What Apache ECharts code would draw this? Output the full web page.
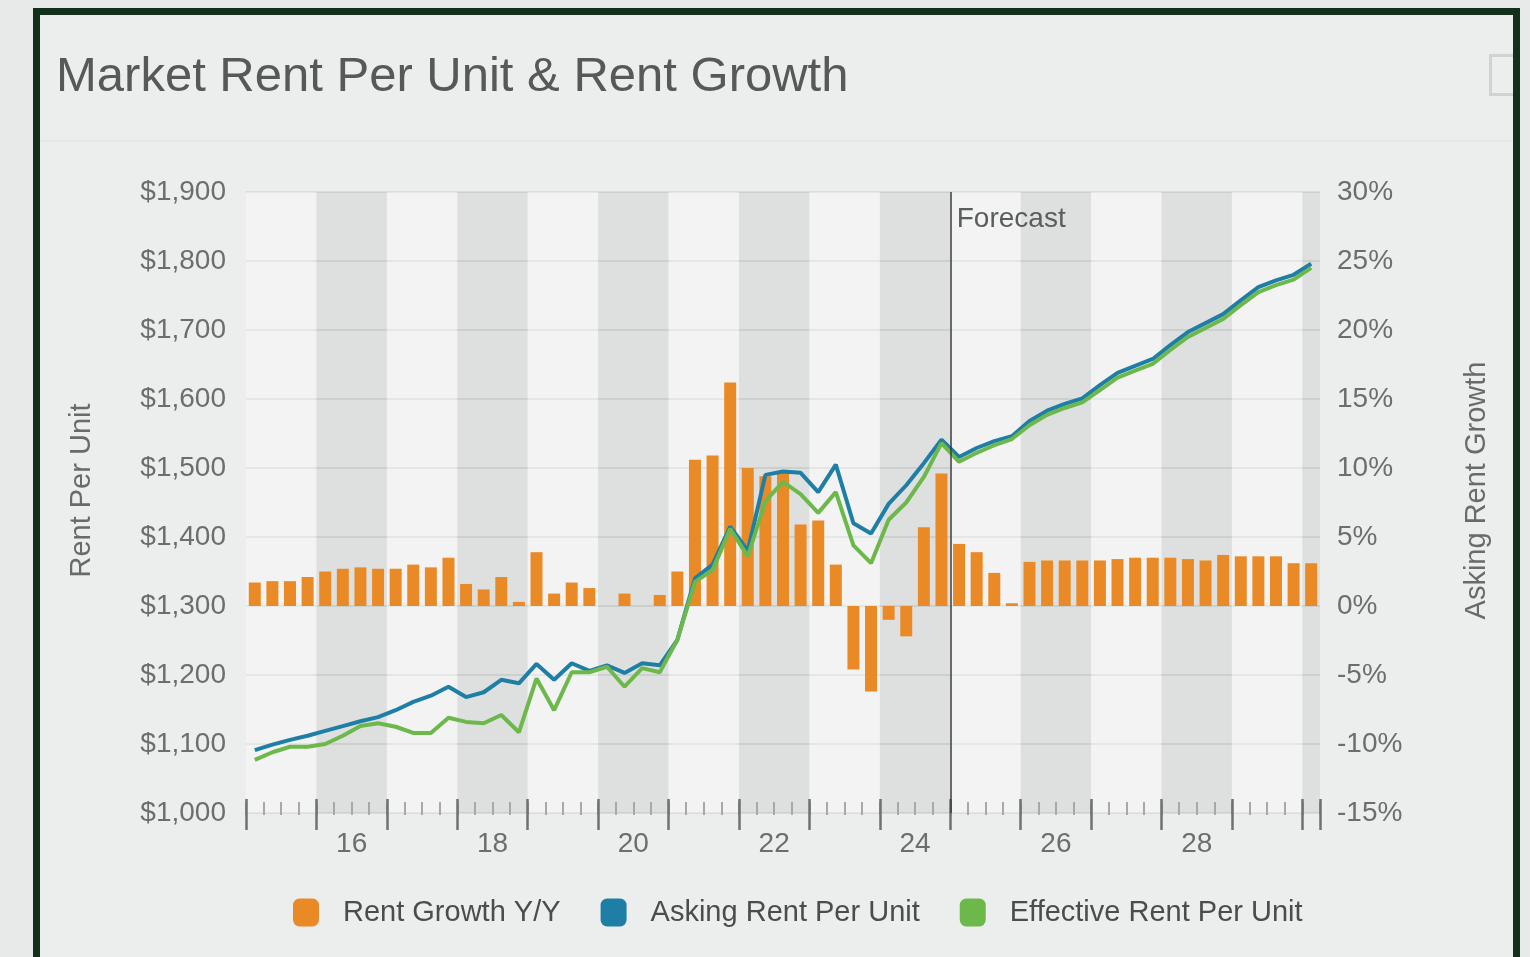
<!DOCTYPE html>
<html><head><meta charset="utf-8">
<script src="https://cdn.jsdelivr.net/npm/echarts@6/dist/echarts.min.js"></script>
<style>
html,body{margin:0;padding:0;width:1530px;height:957px;overflow:hidden;background:#e7eae8;}
#frame{position:absolute;left:33px;top:8px;width:1487px;height:990px;box-sizing:border-box;border:7px solid #12301b;background:#eceeed;overflow:hidden;}
#hdr{position:absolute;left:0;top:125px;width:100%;height:2px;background:#e4e7e6;}
#icon{position:absolute;left:1449px;top:39px;width:32px;height:42px;box-sizing:border-box;border:3px solid #d0d3d3;}
#chart{position:absolute;left:0;top:0;width:1530px;height:957px;}
</style></head>
<body>
<div id="frame"><div id="hdr"></div><div id="icon"></div></div>
<div id="chart"></div>
<script>
const quarters = [
 '2015 Q1','2015 Q2','2015 Q3','2015 Q4','2016 Q1','2016 Q2','2016 Q3','2016 Q4',
 '2017 Q1','2017 Q2','2017 Q3','2017 Q4','2018 Q1','2018 Q2','2018 Q3','2018 Q4',
 '2019 Q1','2019 Q2','2019 Q3','2019 Q4','2020 Q1','2020 Q2','2020 Q3','2020 Q4',
 '2021 Q1','2021 Q2','2021 Q3','2021 Q4','2022 Q1','2022 Q2','2022 Q3','2022 Q4',
 '2023 Q1','2023 Q2','2023 Q3','2023 Q4','2024 Q1','2024 Q2','2024 Q3','2024 Q4',
 '2025 Q1','2025 Q2','2025 Q3','2025 Q4','2026 Q1','2026 Q2','2026 Q3','2026 Q4',
 '2027 Q1','2027 Q2','2027 Q3','2027 Q4','2028 Q1','2028 Q2','2028 Q3','2028 Q4',
 '2029 Q1','2029 Q2','2029 Q3','2029 Q4','2030 Q1'
];
const yearTickLabels = ['16','18','20','22','24','26','28'];
const forecastStart = '2025 Q1';

// Rent Growth Y/Y (%)
const rentGrowth = [
 1.7, 1.8, 1.8, 2.1, 2.5, 2.7, 2.8, 2.7,
 2.7, 3.0, 2.8, 3.5, 1.6, 1.2, 2.1, 0.3,
 3.9, 0.9, 1.7, 1.3, 0.0, 0.9, 0.0, 0.8,
 2.5, 10.6, 10.9, 16.2, 10.0, 9.4, 9.7, 5.9,
 6.2, 3.0, -4.6, -6.2, -1.0, -2.2, 5.7, 9.6,
 4.5, 3.9, 2.4, 0.2, 3.2, 3.3, 3.3, 3.3,
 3.3, 3.4, 3.5, 3.5, 3.5, 3.4, 3.3, 3.7,
 3.6, 3.6, 3.6, 3.1, 3.1
];
// Asking Rent Per Unit ($)
const askingRent = [
 1091, 1099, 1106, 1112, 1119, 1126, 1133, 1139,
 1149, 1161, 1170, 1183, 1168, 1175, 1193, 1188,
 1216, 1193, 1217, 1206, 1214, 1203, 1217, 1214,
 1251, 1340, 1360, 1415, 1380, 1490, 1495, 1493,
 1465, 1505, 1420, 1405, 1448, 1475, 1507, 1541,
 1516, 1529, 1539, 1546, 1568, 1583, 1593, 1601,
 1620, 1638, 1648, 1658, 1678, 1697, 1710, 1723,
 1743, 1762, 1772, 1780, 1796
];
// Effective Rent Per Unit ($)
const effectiveRent = [
 1077, 1088, 1096, 1096, 1100, 1112, 1126, 1130,
 1125, 1116, 1116, 1138, 1132, 1130, 1142, 1117,
 1195, 1149, 1204, 1204, 1212, 1183, 1210, 1204,
 1251, 1335, 1352, 1412, 1372, 1452, 1480, 1462,
 1435, 1465, 1388, 1362, 1425, 1450, 1487, 1536,
 1509, 1522, 1533, 1542, 1562, 1577, 1587, 1595,
 1613, 1631, 1641, 1651, 1671, 1690, 1703, 1716,
 1736, 1755, 1765, 1773, 1790
];

const FONT = '"Liberation Sans", Arial, Helvetica, sans-serif';
const forecastIdx = quarters.indexOf(forecastStart);
const labelIdx = yearTickLabels.map(y => quarters.indexOf('20' + y + ' Q2'));

const chart = echarts.init(document.getElementById('chart'), null, {renderer: 'canvas'});
const option = {
  animation: false,
  backgroundColor: 'transparent',
  textStyle: {fontFamily: FONT},
  title: {
    text: 'Market Rent Per Unit & Rent Growth', left: 56, top: 53, padding: 0,
    textStyle: {fontSize: 49, fontWeight: 'normal', color: '#56595a', fontFamily: FONT}
  },
  grid: {left: 246, right: 210, top: 192, bottom: 144, containLabel: false},
  legend: {
    data: ['Rent Growth Y/Y', 'Asking Rent Per Unit', 'Effective Rent Per Unit'],
    left: 288, top: 893, icon: 'roundRect', itemWidth: 26, itemHeight: 28, itemGap: 40,
    textStyle: {fontSize: 29, color: '#4a4d4e', fontFamily: FONT, padding: [0, 0, 0, 19]}
  },
  xAxis: [
    {
      type: 'category', data: quarters, boundaryGap: true, position: 'bottom', offset: -11,
      axisLine: {show: false, onZero: false},
      axisTick: {show: true, interval: 0, length: 13, lineStyle: {color: '#a6a9a9', width: 2}},
      axisLabel: {show: false}, splitLine: {show: false}
    },
    {
      type: 'category', data: quarters, boundaryGap: true, position: 'bottom', offset: -14,
      axisLine: {show: false, onZero: false},
      axisTick: {show: true, interval: (i) => i % 4 === 0, length: 31, lineStyle: {color: '#6f7272', width: 2.5}},
      axisLabel: {
        show: true, interval: (i) => labelIdx.indexOf(i) >= 0,
        formatter: (v, i) => yearTickLabels[labelIdx.indexOf(i)],
        margin: 31, padding: [0, 0, 0, 17.6], fontSize: 28, color: '#6b6e6f', fontFamily: FONT
      },
      splitLine: {show: false},
      splitArea: {show: true, interval: 3, areaStyle: {color: ['rgba(255,255,255,0.3)', 'rgba(0,0,0,0.06)']}}
    },
    {type: 'value', min: 0, max: quarters.length, show: false, axisLine: {onZero: false}}
  ],
  yAxis: [
    {
      type: 'value', min: 1000, max: 1900, interval: 100, position: 'left',
      name: 'Rent Per Unit', nameLocation: 'middle', nameRotate: 90, nameGap: 150,
      nameTextStyle: {fontSize: 29, color: '#686b6c', fontFamily: FONT, padding: [0, 0, 0, 24]},
      axisLine: {show: false}, axisTick: {show: false},
      axisLabel: {fontSize: 28, color: '#6b6e6f', margin: 20, fontFamily: FONT,
        formatter: v => '$' + String(v).replace(/\B(?=(\d{3})+(?!\d))/g, ',')},
      splitLine: {show: true, lineStyle: {color: '#d3d6d6', width: 1.5}}
    },
    {
      type: 'value', min: -15, max: 30, interval: 5, position: 'right',
      name: 'Asking Rent Growth', nameLocation: 'middle', nameRotate: 90, nameGap: 142,
      nameTextStyle: {fontSize: 29, color: '#686b6c', fontFamily: FONT, padding: [0, 0, 0, 24]},
      axisLine: {show: false}, axisTick: {show: false},
      axisLabel: {fontSize: 28, color: '#6b6e6f', margin: 17, fontFamily: FONT, formatter: v => v + '%'},
      splitLine: {show: false}
    }
  ],
  series: [
    {
      name: 'Rent Growth Y/Y', type: 'bar', xAxisIndex: 0, yAxisIndex: 1, data: rentGrowth,
      barWidth: 12, itemStyle: {color: '#ea8a27'}
    },
    {
      name: 'Asking Rent Per Unit', type: 'line', xAxisIndex: 0, yAxisIndex: 0, data: askingRent,
      symbol: 'none', color: '#1f7ea6', lineStyle: {width: 4, color: '#1f7ea6'}, z: 3
    },
    {
      name: 'Effective Rent Per Unit', type: 'line', xAxisIndex: 0, yAxisIndex: 0, data: effectiveRent,
      symbol: 'none', color: '#6cb84a', lineStyle: {width: 4, color: '#6cb84a'}, z: 4
    },
    {
      name: 'forecast', type: 'line', xAxisIndex: 2, yAxisIndex: 0, data: [], silent: true, z: 5,
      markLine: {
        silent: true, symbol: 'none', label: {show: false},
        lineStyle: {color: '#3a3d3d', width: 1.5, type: 'solid'},
        data: [{xAxis: forecastIdx}]
      },
      markPoint: {
        silent: true, symbol: 'rect', symbolSize: 1, itemStyle: {color: 'rgba(0,0,0,0)'},
        label: {show: true, position: 'right', distance: 6, formatter: 'Forecast',
          fontSize: 28, color: '#5a5d5e', fontFamily: FONT},
        data: [{coord: [forecastIdx, 1860]}]
      }
    }
  ]
};
chart.setOption(option);
</script>
</body></html>
